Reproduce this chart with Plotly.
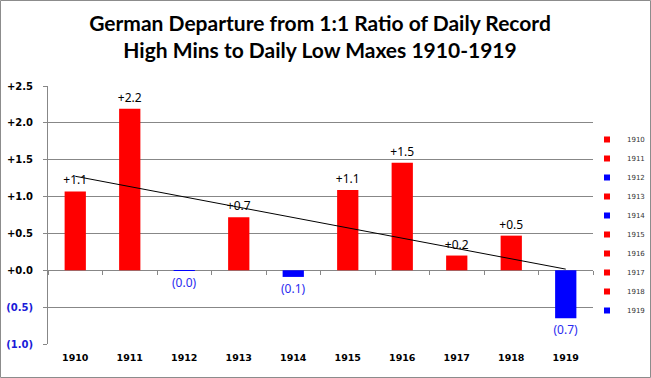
import numpy as np
import plotly.graph_objects as go

years = ["1910", "1911", "1912", "1913", "1914", "1915", "1916", "1917", "1918", "1919"]
values = [1.07, 2.19, -0.004, 0.72, -0.09, 1.09, 1.46, 0.20, 0.47, -0.65]
y_tickvals = [-1.0, -0.5, 0.0, 0.5, 1.0, 1.5, 2.0, 2.5]
y_ticktext = ["(1.0)", "(0.5)", "+0.0", "+0.5", "+1.0", "+1.5", "+2.0", "+2.5"]

RED = "#FF0000"
BLUE = "#0000FF"
GRID = "#878787"

bar_colors = [RED if v >= 0 else BLUE for v in values]
label_text = [f"+{v:.1f}" if v >= 0 else f"({abs(v):.1f})" for v in values]
label_colors = ["#000000" if v >= 0 else "#2B2BF0" for v in values]
tick_html = [t if v >= 0 else f'<span style="color:#1A1AD8">{t}</span>'
             for t, v in zip(y_ticktext, y_tickvals)]

# linear trend line fitted to the values
idx = np.arange(len(values))
slope, intercept = np.polyfit(idx, values, 1)
trend = slope * idx + intercept

W, H = 651, 378
ML, MR, MT, MB = 48, 58, 86, 34
PW = W - ML - MR
PH = H - MT - MB

fig = go.Figure()
fig.add_trace(go.Bar(
    x=years, y=values, marker=dict(color=bar_colors, line=dict(width=0)),
    text=label_text, textposition="outside", constraintext="none",
    textfont=dict(family="Noto Sans", size=12, color=label_colors),
    cliponaxis=False, showlegend=False, hoverinfo="x+y",
))
fig.add_trace(go.Scatter(
    x=years, y=trend, mode="lines", line=dict(color="#000000", width=1),
    showlegend=False, hoverinfo="skip",
))
for yr, c in zip(years, bar_colors):
    fig.add_trace(go.Scatter(
        x=[None], y=[None], mode="markers", name=yr,
        marker=dict(symbol="square", size=6, color=c),
    ))

fig.update_layout(
    width=W, height=H,
    margin=dict(l=ML, r=MR, t=MT, b=MB, autoexpand=False),
    paper_bgcolor="#FFFFFF", plot_bgcolor="#FFFFFF",
    bargap=0.61,
    title=dict(
        text="German Departure from 1:1 Ratio of Daily Record<br>High Mins to Daily Low Maxes 1910-1919",
        font=dict(family="Lato", size=21, color="#000000", weight="bold"),
        x=320 / W, xref="container", xanchor="center",
        y=1 - 31 / H, yref="container", yanchor="top",
    ),
    xaxis=dict(
        type="category", categoryarray=years, range=[-0.5, 9.5],
        showgrid=False, showline=False, ticks="", zeroline=False,
        tickfont=dict(family="DejaVu Sans", size=9.5, color="#000000", weight="bold"),
        ticklabelstandoff=6, automargin=False,
    ),
    xaxis2=dict(
        type="category", categoryarray=years, matches="x",
        overlaying="x", anchor="free", position=1 / 3.5, side="bottom",
        showgrid=False, showline=False, showticklabels=False, zeroline=False,
        ticks="outside", tickson="boundaries", ticklen=4, tickcolor=GRID,
        automargin=False,
    ),
    yaxis=dict(
        range=[-1.0, 2.5], tickvals=y_tickvals, ticktext=tick_html,
        showgrid=True, gridcolor=GRID, gridwidth=1, zeroline=False,
        showline=True, linecolor=GRID, linewidth=1,
        ticks="outside", ticklen=4, tickcolor=GRID,
        tickfont=dict(family="DejaVu Sans", size=10, color="#000000", weight="bold"),
        ticklabelstandoff=8, automargin=False,
    ),
    legend=dict(
        xref="container", yref="container",
        x=587 / W, xanchor="left", y=1 - 125 / H, yanchor="top",
        font=dict(family="DejaVu Sans", size=7, color="#333333"),
        bgcolor="rgba(0,0,0,0)", itemwidth=30,
    ),
    shapes=[dict(
        type="rect", xref="paper", yref="paper",
        x0=-(ML - 0.5) / PW, x1=1 + (MR - 0.5) / PW,
        y0=-(MB - 0.5) / PH, y1=1 + (MT - 0.5) / PH,
        line=dict(color="#8C8C8C", width=1), layer="below",
    )],
)
fig.data[1].update(xaxis="x2")
fig.write_html("out.html", config={"displayModeBar": False},
               post_script="document.body.style.margin='0px';")
